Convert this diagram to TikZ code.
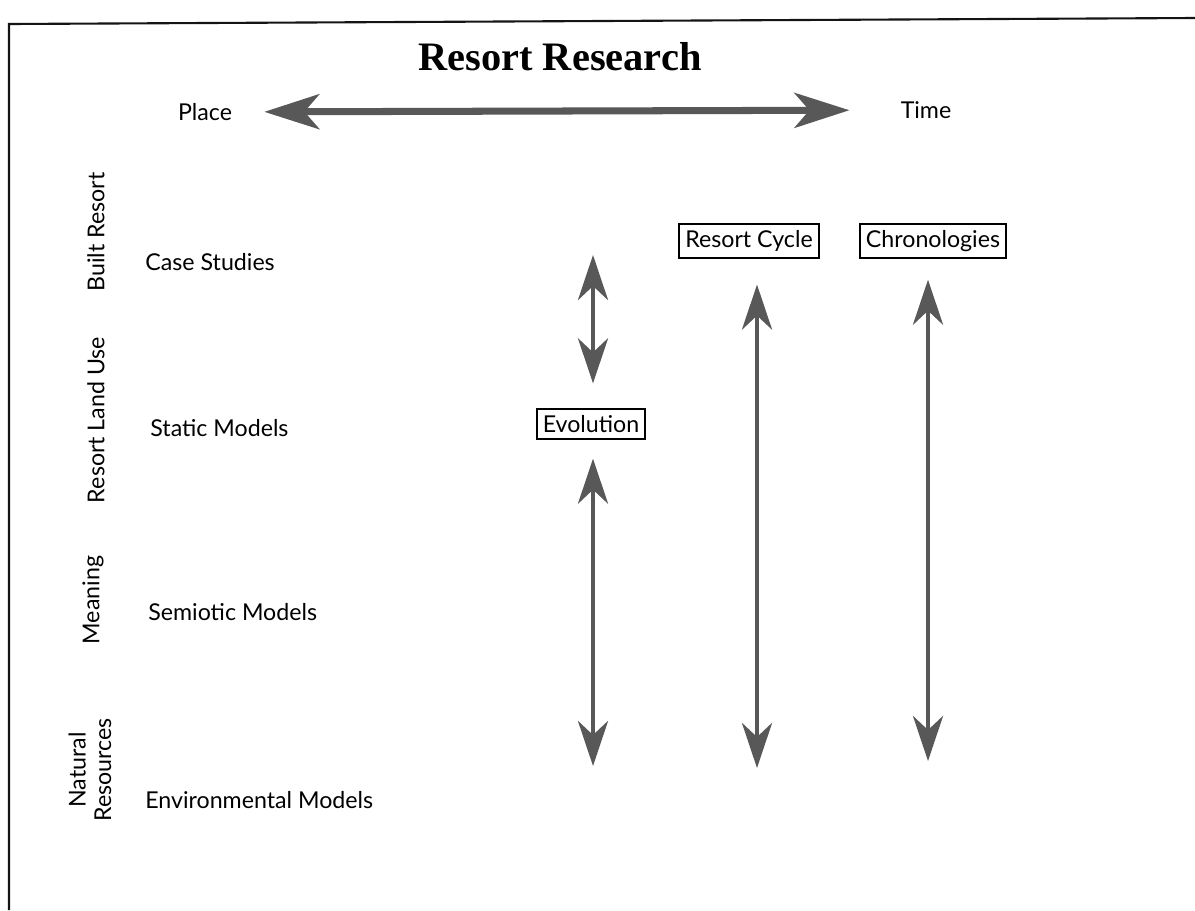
\documentclass[tikz,border=0pt]{standalone}
\usepackage{fontspec}
\setmainfont{Liberation Serif}
\newfontfamily\labelfont{Lato}
\usepackage{xcolor}
\usetikzlibrary{arrows.meta,positioning}
\definecolor{hatch}{RGB}{88,88,88}
\definecolor{frame}{RGB}{20,20,20}

\begin{document}
\begin{tikzpicture}[
  x=0.02cm, y=-0.02cm,
  title/.style={font=\bfseries\fontsize{23}{26}\selectfont},
  lbl/.style={font=\labelfont\fontsize{13.2}{14.5}\selectfont, inner sep=0pt},
  rowlbl/.style={lbl, anchor=west},
  side/.style={lbl, rotate=90, align=center},
  tag/.style={draw, line width=1pt, inner sep=3.5pt, font=\labelfont\fontsize{13.2}{14.5}\selectfont},
  arr/.style={{Stealth[length=0.9cm, width=0.6cm, inset=0.28cm]}-{Stealth[length=0.9cm, width=0.6cm, inset=0.28cm]}, line width=2.8pt, hatch},
  harr/.style={{Stealth[length=1.1cm, width=0.7cm, inset=0.3cm]}-{Stealth[length=1.1cm, width=0.7cm, inset=0.3cm]}, line width=4pt, hatch}
]
\useasboundingbox (0,0) rectangle (1195,910);
\draw[frame, line width=1.2pt] (9,910) -- (9,24) -- (1195,18);

\node[title] (ttl) at (560,57) {Resort Research};
\node[lbl] (place) at (205,112) {Place};
\node[lbl] (time) at (926,110) {Time};
\draw[harr, shorten <=0.64cm, shorten >=1.02cm] (place) -- (time);

% themes down the side
\node[side] (built) at (96,232) {Built Resort};
\node[side] (landuse) at (96,420) {Resort Land Use};
\node[side] (meaning) at (93,600) {Meaning};
\node[side] (natural) at (90,770) {Natural\\Resources};

\node[rowlbl] (cases) at (145,262) {Case Studies};
\node[rowlbl] (static) at (150,428) {Static Models};
\node[rowlbl] (semiotic) at (148,612) {Semiotic Models};
\node[rowlbl] (environ) at (145,800) {Environmental Models};

\node[tag] (cycle) at (749,241) {Resort Cycle};
\node[tag] (chron) at (933,241) {Chronologies};
\node[tag] (evo) at (591,424) {Evolution};

\coordinate (evotop) at (593,255);
\coordinate (evobot) at (593,766);
\coordinate (cyclebot) at (757,768);
\coordinate (chronbot) at (928,761);

\draw[arr, shorten >=0.5cm] (evotop) -- (evotop |- evo.north);
\draw[arr, shorten <=0.38cm] (evobot |- evo.south) -- (evobot);
\draw[arr, shorten <=0.52cm] (cyclebot |- cycle.south) -- (cyclebot);
\draw[arr, shorten <=0.42cm] (chronbot |- chron.south) -- (chronbot);
\end{tikzpicture}
\end{document}
